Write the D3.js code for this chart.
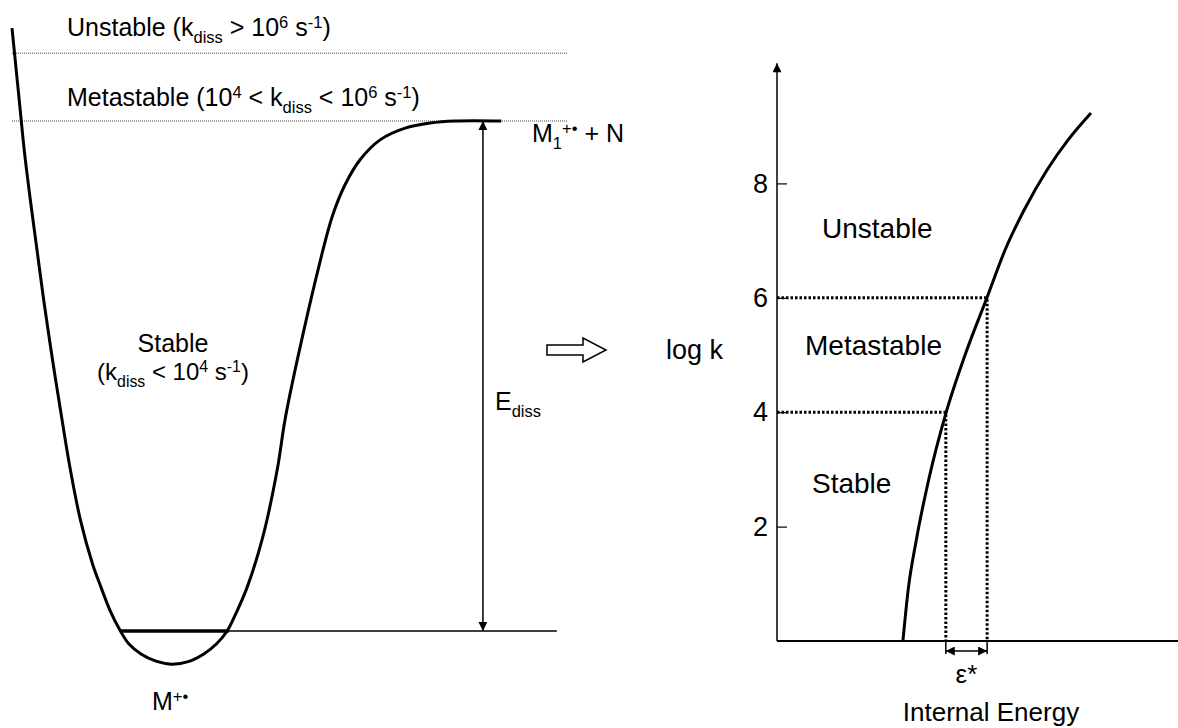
<!DOCTYPE html>
<html>
<head>
<meta charset="utf-8">
<script src="https://cdn.jsdelivr.net/npm/d3@7"></script>
<style>
  body { margin: 0; background: #fff; }
  svg { display: block; font-family: "Liberation Sans", Arial, Helvetica, sans-serif; }
</style>
</head>
<body>
<div id="chart"></div>
<script>
// left panel: potential energy well, [reaction coordinate, energy] (E_diss = 10)
const wellCurve = [
  [0, 11.82], [1.3, 10.41], [2.2, 9.43], [3.3, 8.45], [4.5, 7.47], [5.7, 6.49],
  [7.3, 5.31], [9.0, 4.14], [10.5, 3.16], [12.3, 2.18], [14.5, 1.31], [16.0, 0.86],
  [17.6, 0.41], [19.4, 0.02], [21.0, -0.25], [23.2, -0.45], [25.9, -0.59], [28.8, -0.65],
  [31.7, -0.6], [34.5, -0.45], [36.8, -0.25], [38.7, 0], [40.3, 0.35], [42.3, 0.86],
  [45.1, 1.84], [47.7, 3.16], [49.1, 4.14], [51.3, 5.31], [55.4, 7.24], [57.7, 8.16],
  [59.9, 8.75], [62.6, 9.24], [66.2, 9.63], [70.7, 9.86], [75.2, 9.96], [79.7, 10], [88.0, 10]
]
const groundLevel = 0
const groundThick = [19.4, 39.0]
const groundEnd = 98
const thresholdLevels = [11.33, 10] // unstable, metastable boundaries
const ediss = { x: 84.7, from: 0, to: 10 }

// right panel: log k vs internal energy
const rateCurve = [
  [3.14, 0], [3.27, 0.89], [3.47, 1.75], [3.78, 2.81], [4.22, 4.0], [4.69, 5.0],
  [5.24, 6.01], [5.69, 6.84], [6.16, 7.53], [6.73, 8.23], [7.26, 8.76], [7.83, 9.23]
]
const logkTicks = [2, 4, 6, 8]
const cutoffs = [[4.21, 4], [5.24, 6]]

const width = 1178
const height = 728

const svg = d3.select('#chart').append('svg').attr('width', width).attr('height', height)

const defs = svg.append('defs')
defs.append('marker')
  .attr('id', 'tri')
  .attr('viewBox', '0 0 10 10')
  .attr('refX', 10).attr('refY', 5)
  .attr('markerWidth', 10).attr('markerHeight', 9)
  .attr('markerUnits', 'userSpaceOnUse')
  .attr('orient', 'auto-start-reverse')
  .append('path').attr('d', 'M0,0 L10,5 L0,10 Z').attr('fill', '#000')

// rich text: segments [text, 'sub' | 'sup' | null]
function richText(g, segs, x, y, size, anchor = 'start') {
  const t = g.append('text').attr('x', x).attr('y', y)
    .attr('font-size', size).attr('text-anchor', anchor)
  let shift = 0
  for (const [s, kind] of segs) {
    const target = kind === 'sub' ? size * 0.28 : kind === 'sup' ? -size * 0.33 : 0
    t.append('tspan')
      .attr('dy', target - shift)
      .attr('font-size', kind ? size * 0.66 : size)
      .text(s)
    shift = target
  }
  return t
}

// ---------- left panel ----------
const xL = d3.scaleLinear().domain([0, 100]).range([12, 568])
const yL = d3.scaleLinear().domain([0, 10]).range([631, 121])
const left = svg.append('g')

left.selectAll('line.thresh')
  .data(thresholdLevels)
  .join('line')
  .attr('class', 'thresh')
  .attr('x1', xL(0)).attr('x2', xL(100))
  .attr('y1', (d) => yL(d)).attr('y2', (d) => yL(d))
  .attr('stroke', '#444').attr('stroke-width', 1).attr('stroke-dasharray', '1,1')

left.append('line')
  .attr('x1', xL(groundThick[0])).attr('x2', xL(groundEnd))
  .attr('y1', yL(groundLevel)).attr('y2', yL(groundLevel))
  .attr('stroke', '#000').attr('stroke-width', 1.5)

left.append('line')
  .attr('x1', xL(groundThick[0])).attr('x2', xL(groundThick[1]))
  .attr('y1', yL(groundLevel)).attr('y2', yL(groundLevel))
  .attr('stroke', '#000').attr('stroke-width', 3.5)

left.append('path')
  .datum(wellCurve)
  .attr('fill', 'none').attr('stroke', '#000').attr('stroke-width', 3)
  .attr('d', d3.line().x((d) => xL(d[0])).y((d) => yL(d[1])).curve(d3.curveCatmullRom.alpha(0.5)))

left.append('line')
  .attr('x1', xL(ediss.x)).attr('x2', xL(ediss.x))
  .attr('y1', yL(ediss.from)).attr('y2', yL(ediss.to))
  .attr('stroke', '#000').attr('stroke-width', 1.5)
  .attr('marker-start', 'url(#tri)').attr('marker-end', 'url(#tri)')

richText(left, [['Unstable (k', null], ['diss', 'sub'], [' > 10', null], ['6', 'sup'], [' s', null], ['-1', 'sup'], [')', null]], 67, 36, 25)
richText(left, [['Metastable (10', null], ['4', 'sup'], [' < k', null], ['diss', 'sub'], [' < 10', null], ['6', 'sup'], [' s', null], ['-1', 'sup'], [')', null]], 67, 106, 25)
richText(left, [['Stable', null]], 173, 352, 25, 'middle')
richText(left, [['(k', null], ['diss', 'sub'], [' < 10', null], ['4', 'sup'], [' s', null], ['-1', 'sup'], [')', null]], 173, 380, 24, 'middle')
richText(left, [['E', null], ['diss', 'sub']], 495, 410, 25)
richText(left, [['M', null], ['1', 'sub'], ['+•', 'sup'], [' + N', null]], 532, 142, 25)
richText(left, [['M', null], ['+•', 'sup']], 152, 710, 25)

// hollow arrow
svg.append('path')
  .attr('d', 'M547,345 L583,345 L583,338 L606,350 L583,362 L583,355 L547,355 Z')
  .attr('fill', '#fff').attr('stroke', '#000').attr('stroke-width', 1.5)

svg.append('text').attr('x', 666).attr('y', 359).attr('font-size', 27).text('log k')

// ---------- right panel ----------
const xR = d3.scaleLinear().domain([0, 10]).range([777, 1178])
const yR = d3.scaleLinear().domain([0, 10]).range([641, 69])
const right = svg.append('g')

right.append('line')
  .attr('x1', xR(0)).attr('x2', xR(10)).attr('y1', yR(0)).attr('y2', yR(0))
  .attr('stroke', '#000').attr('stroke-width', 2)

right.append('line')
  .attr('x1', xR(0)).attr('x2', xR(0)).attr('y1', yR(0)).attr('y2', yR(10.1))
  .attr('stroke', '#000').attr('stroke-width', 1.5)
  .attr('marker-end', 'url(#tri)')

const yAxis = right.append('g')
  .attr('transform', `translate(${xR(0)},0)`)
  .call(d3.axisLeft(yR).tickValues(logkTicks).tickSize(-10).tickPadding(9).tickFormat(d3.format('d')))
yAxis.select('.domain').remove()
yAxis.selectAll('.tick line').attr('stroke-width', 1.2)
yAxis.selectAll('.tick text').attr('font-size', 27).attr('font-family', null).attr('fill', '#000')

right.selectAll('path.cut')
  .data(cutoffs)
  .join('path')
  .attr('class', 'cut')
  .attr('fill', 'none').attr('stroke', '#000').attr('stroke-width', 3)
  .attr('stroke-dasharray', '2.5,2')
  .attr('d', (d) => `M${xR(0)},${yR(d[1])} H${xR(d[0])} V${yR(0)}`)

right.append('path')
  .datum(rateCurve)
  .attr('fill', 'none').attr('stroke', '#000').attr('stroke-width', 3)
  .attr('d', d3.line().x((d) => xR(d[0])).y((d) => yR(d[1])).curve(d3.curveMonotoneX))

// epsilon* bracket
const yb = yR(0)
right.selectAll('line.cap')
  .data(cutoffs)
  .join('line')
  .attr('class', 'cap')
  .attr('x1', (d) => xR(d[0])).attr('x2', (d) => xR(d[0]))
  .attr('y1', yb).attr('y2', yb + 13)
  .attr('stroke', '#000').attr('stroke-width', 1.5)
right.append('line')
  .attr('x1', xR(cutoffs[0][0])).attr('x2', xR(cutoffs[1][0]))
  .attr('y1', yb + 10).attr('y2', yb + 10)
  .attr('stroke', '#000').attr('stroke-width', 1.5)
  .attr('marker-start', 'url(#tri)').attr('marker-end', 'url(#tri)')

right.append('text').attr('x', (xR(cutoffs[0][0]) + xR(cutoffs[1][0])) / 2).attr('y', 683)
  .attr('text-anchor', 'middle').attr('font-size', 26).text('ε*')
right.append('text').attr('x', 991).attr('y', 721)
  .attr('text-anchor', 'middle').attr('font-size', 26).text('Internal Energy')

right.append('text').attr('x', 822).attr('y', 238).attr('font-size', 28).text('Unstable')
right.append('text').attr('x', 805).attr('y', 355).attr('font-size', 28).text('Metastable')
right.append('text').attr('x', 812).attr('y', 493).attr('font-size', 28).text('Stable')
</script>
</body>
</html>
